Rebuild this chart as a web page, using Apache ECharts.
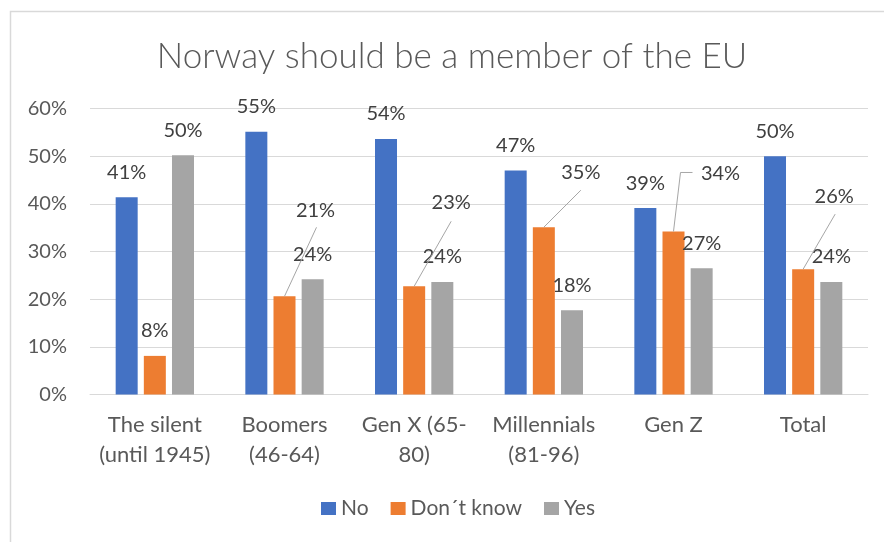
<!DOCTYPE html>
<html>
<head>
<meta charset="utf-8">
<style>
  html, body { margin: 0; padding: 0; background: #ffffff; }
  #chart { width: 884px; height: 542px; }
</style>
<script src="https://cdn.jsdelivr.net/npm/echarts@6/dist/echarts.min.js"></script>
</head>
<body>
<div id="chart"></div>
<script>
// Survey answers by generation, in percent
const categories = [
  'The silent\n(until 1945)',
  'Boomers\n(46-64)',
  'Gen X (65-\n80)',
  'Millennials\n(81-96)',
  'Gen Z',
  'Total'
];
const seriesNames = ['No', 'Don\u00b4t know', 'Yes'];
const noValues = [41.4, 55.1, 53.6, 47.0, 39.1, 50.0];
const dontKnowValues = [8.1, 20.6, 22.7, 35.1, 34.2, 26.3];
const yesValues = [50.2, 24.2, 23.6, 17.7, 26.5, 23.6];
const yTicks = [0, 10, 20, 30, 40, 50, 60];

// "Don't know" labels placed away from their bar (label shift dx, dy in px)
const calloutShift = {
  1: [31, -61],
  2: [37, -59],
  3: [37, -30],
  4: [47, -33],
  5: [31, -48]
};
// Leader line bends, in px relative to the top centre of the bar
const calloutPath = {
  1: [[32, -69]],
  2: [[37, -65]],
  3: [[37, -37]],
  4: [[7, -59], [19, -59]],
  5: [[32, -55]]
};

const FONT = 'Lato, "Open Sans", sans-serif';
const colors = ['#4472C4', '#ED7D31', '#A5A5A5'];

const chart = echarts.init(document.getElementById('chart'), null, { renderer: 'canvas' });

function barSeries(name, values, idx) {
  return {
    name: name,
    type: 'bar',
    barWidth: 22,
    barGap: '28%',
    itemStyle: { color: colors[idx] },
    data: values,
    label: {
      show: true,
      position: 'top',
      distance: 15,
      fontFamily: FONT,
      fontSize: 20,
      color: '#404040',
      formatter: function (p) { return Math.round(p.value) + '%'; }
    },
    labelLayout: idx === 1 ? function (params) {
      const s = calloutShift[params.dataIndex];
      return s ? { dx: s[0], dy: s[1] } : {};
    } : undefined,
    z: 2
  };
}

// Leader lines from the centre "Don't know" bar (category centre) to its moved label
const leaderData = Object.keys(calloutPath).map(function (k) {
  const i = Number(k);
  return [i, dontKnowValues[i]];
});

const leaderSeries = {
  type: 'custom',
  name: 'leaders',
  silent: true,
  z: 3,
  data: leaderData,
  renderItem: function (params, api) {
    const i = api.value(0);
    const top = api.coord([i, api.value(1)]);
    const pts = [top].concat(calloutPath[i].map(function (d) {
      return [top[0] + d[0], top[1] + d[1]];
    }));
    return {
      type: 'polyline',
      shape: { points: pts },
      style: { stroke: '#A6A6A6', lineWidth: 1, fill: null }
    };
  }
};

chart.setOption({
  animation: false,
  backgroundColor: '#ffffff',
  title: {
    text: 'Norway should be a member of the EU',
    left: 447,
    top: 34,
    textAlign: 'center',
    textStyle: {
      fontFamily: FONT,
      fontWeight: 300,
      fontSize: 35,
      color: '#595959'
    }
  },
  legend: {
    data: seriesNames,
    left: 321,
    top: 498,
    padding: 0,
    icon: 'rect',
    itemWidth: 15,
    itemHeight: 13,
    itemGap: 22,
    textStyle: { fontFamily: FONT, fontSize: 21, color: '#595959' }
  },
  grid: { left: 90, right: 16, top: 108.5, bottom: 147.5, containLabel: false },
  xAxis: {
    type: 'category',
    data: categories,
    axisTick: { show: false },
    axisLine: { show: true, lineStyle: { color: '#D9D9D9', width: 1 } },
    axisLabel: {
      margin: 15,
      fontFamily: FONT,
      fontSize: 22,
      lineHeight: 30,
      color: '#595959',
      interval: 0
    }
  },
  yAxis: {
    type: 'value',
    min: yTicks[0],
    max: yTicks[yTicks.length - 1],
    interval: 10,
    axisLine: { show: false },
    axisTick: { show: false },
    splitLine: { lineStyle: { color: '#D9D9D9', width: 1 } },
    axisLabel: {
      margin: 23,
      fontFamily: FONT,
      fontSize: 20,
      color: '#595959',
      formatter: function (v) { return v + '%'; }
    }
  },
  graphic: [{
    type: 'rect',
    left: 8,
    top: 9,
    shape: { width: 1000, height: 700 },
    style: { fill: 'none', stroke: '#D9D9D9', lineWidth: 1.5 },
    silent: true,
    z: -1
  }],
  series: [
    barSeries(seriesNames[0], noValues, 0),
    barSeries(seriesNames[1], dontKnowValues, 1),
    barSeries(seriesNames[2], yesValues, 2),
    leaderSeries
  ]
});
</script>
</body>
</html>
